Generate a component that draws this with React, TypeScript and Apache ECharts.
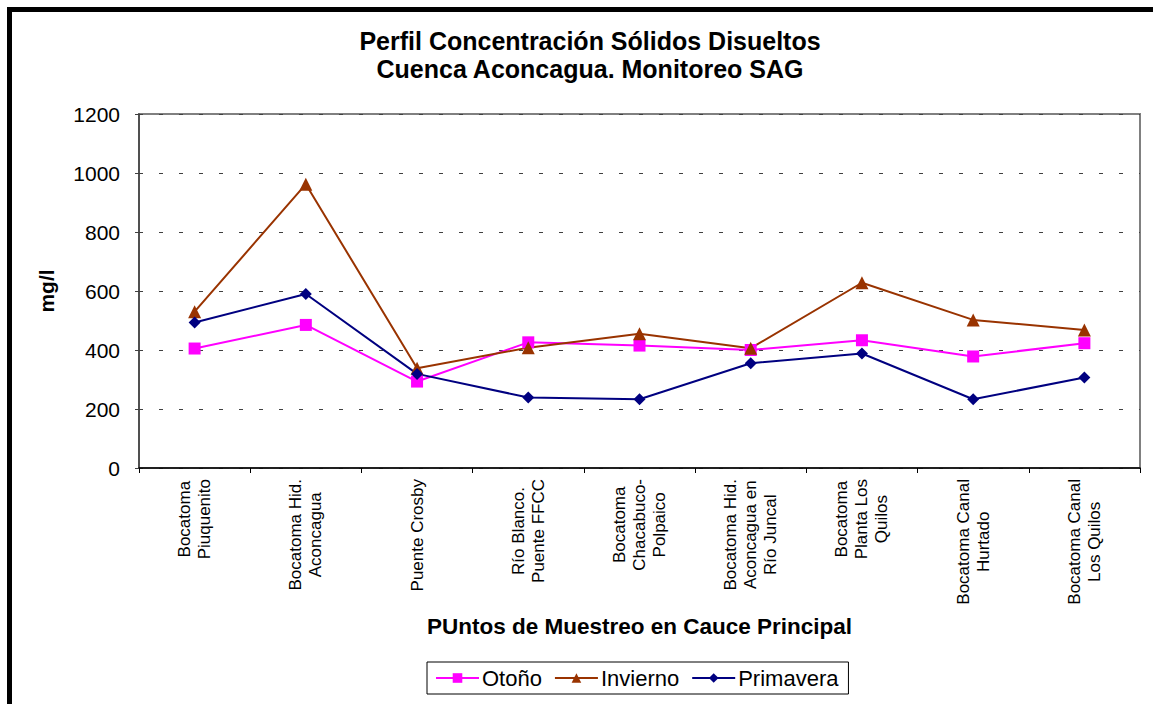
import React, { useEffect, useRef } from "react";
import * as echarts from "echarts";

const categories = [
  "Bocatoma\nPiuquenito",
  "Bocatoma Hid.\nAconcagua",
  "Puente Crosby",
  "Río Blanco.\nPuente FFCC",
  "Bocatoma\nChacabuco-\nPolpaico",
  "Bocatoma Hid.\nAconcagua en\nRío Juncal",
  "Bocatoma\nPlanta Los\nQuilos",
  "Bocatoma Canal\nHurtado",
  "Bocatoma Canal\nLos Quilos",
];
const otono = [405, 485, 293, 426, 415, 400, 433, 378, 423];
const invierno = [530, 962, 338, 408, 455, 406, 628, 502, 468];
const primavera = [493, 590, 319, 239, 233, 355, 388, 233, 307];
const yTicks = { min: 0, max: 1200, interval: 200 };

const FONT = "Liberation Sans, Arial, sans-serif";

export default function App() {
  const ref = useRef<HTMLDivElement>(null);
  useEffect(() => {
    if (!ref.current) return;
    const chart = echarts.init(ref.current, null, { renderer: "svg" });
    chart.setOption({
      animation: false,
      backgroundColor: "#ffffff",
      textStyle: { fontFamily: FONT },
      title: {
        text: "Perfil Concentración Sólidos Disueltos\nCuenca Aconcagua. Monitoreo SAG",
        left: 590,
        textAlign: "center",
        top: 27,
        padding: 0,
        textStyle: {
          fontFamily: FONT,
          fontSize: 25,
          fontWeight: "bold",
          color: "#000",
          lineHeight: 28,
        },
      },
      graphic: [
        { type: "rect", shape: { x: 7, y: 7, width: 1146, height: 5 }, style: { fill: "#000" }, silent: true },
        { type: "rect", shape: { x: 7, y: 7, width: 5, height: 697 }, style: { fill: "#000" }, silent: true },
      ],
      grid: {
        left: 139,
        top: 114,
        right: 13,
        bottom: 236,
        show: true,
        borderColor: "#808080",
        borderWidth: 2,
        backgroundColor: "#fff",
        containLabel: false,
      },
      legend: {
        left: 427,
        top: 662,
        padding: [5, 10, 5, 8],
        borderColor: "#000",
        borderWidth: 1,
        itemGap: 12,
        itemWidth: 43,
        itemHeight: 12,
        textStyle: { fontFamily: FONT, fontSize: 22, color: "#000", padding: [0, 0, 0, -2] },
        data: ["Otoño", "Invierno", "Primavera"],
      },
      xAxis: {
        type: "category",
        data: categories,
        boundaryGap: true,
        name: "PUntos de Muestreo en Cauce Principal",
        nameLocation: "middle",
        nameGap: 147,
        nameTextStyle: { fontFamily: FONT, fontSize: 22.5, fontWeight: "bold", color: "#000" },
        axisLine: { lineStyle: { color: "#000", width: 1.5 } },
        axisTick: { show: true, length: 5, lineStyle: { color: "#000" } },
        axisLabel: {
          interval: 0,
          rotate: 90,
          margin: 11,
          color: "#000",
          fontFamily: FONT,
          fontSize: 17,
          lineHeight: 20,
          formatter: (v: string) =>
            v
              .split("\n")
              .map((l) => `{c|${l}}`)
              .join("\n"),
          rich: {
            c: { align: "center", fontFamily: FONT, fontSize: 17, lineHeight: 20, color: "#000" },
          },
        },
        splitLine: { show: false },
      },
      yAxis: {
        type: "value",
        min: yTicks.min,
        max: yTicks.max,
        interval: yTicks.interval,
        name: "mg/l",
        nameLocation: "middle",
        nameGap: 82,
        nameTextStyle: { fontFamily: FONT, fontSize: 21, fontWeight: "bold", color: "#000" },
        axisLine: { show: true, lineStyle: { color: "#404040", width: 1.5 } },
        axisTick: { show: true, length: 4, lineStyle: { color: "#404040" } },
        axisLabel: {
          color: "#000",
          fontFamily: FONT,
          fontSize: 21,
          margin: 19,
          formatter: (v: number) => String(v),
        },
        splitLine: {
          show: true,
          lineStyle: { color: "#404040", type: [4, 16], width: 1 },
        },
      },
      series: [
        {
          name: "Otoño",
          type: "line",
          data: otono,
          symbol: "rect",
          symbolSize: 12,
          color: "#FF00FF",
          lineStyle: { width: 2, color: "#FF00FF" },
          itemStyle: { color: "#FF00FF" },
        },
        {
          name: "Invierno",
          type: "line",
          data: invierno,
          symbol: "triangle",
          symbolSize: 13,
          color: "#993300",
          lineStyle: { width: 2, color: "#993300" },
          itemStyle: { color: "#993300" },
        },
        {
          name: "Primavera",
          type: "line",
          data: primavera,
          symbol: "diamond",
          symbolSize: 12,
          color: "#000080",
          lineStyle: { width: 2, color: "#000080" },
          itemStyle: { color: "#000080" },
        },
      ],
    });
    return () => chart.dispose();
  }, []);
  return (
    <div
      ref={ref}
      style={{ position: "absolute", left: 0, top: 0, width: 1153, height: 704 }}
    />
  );
}
